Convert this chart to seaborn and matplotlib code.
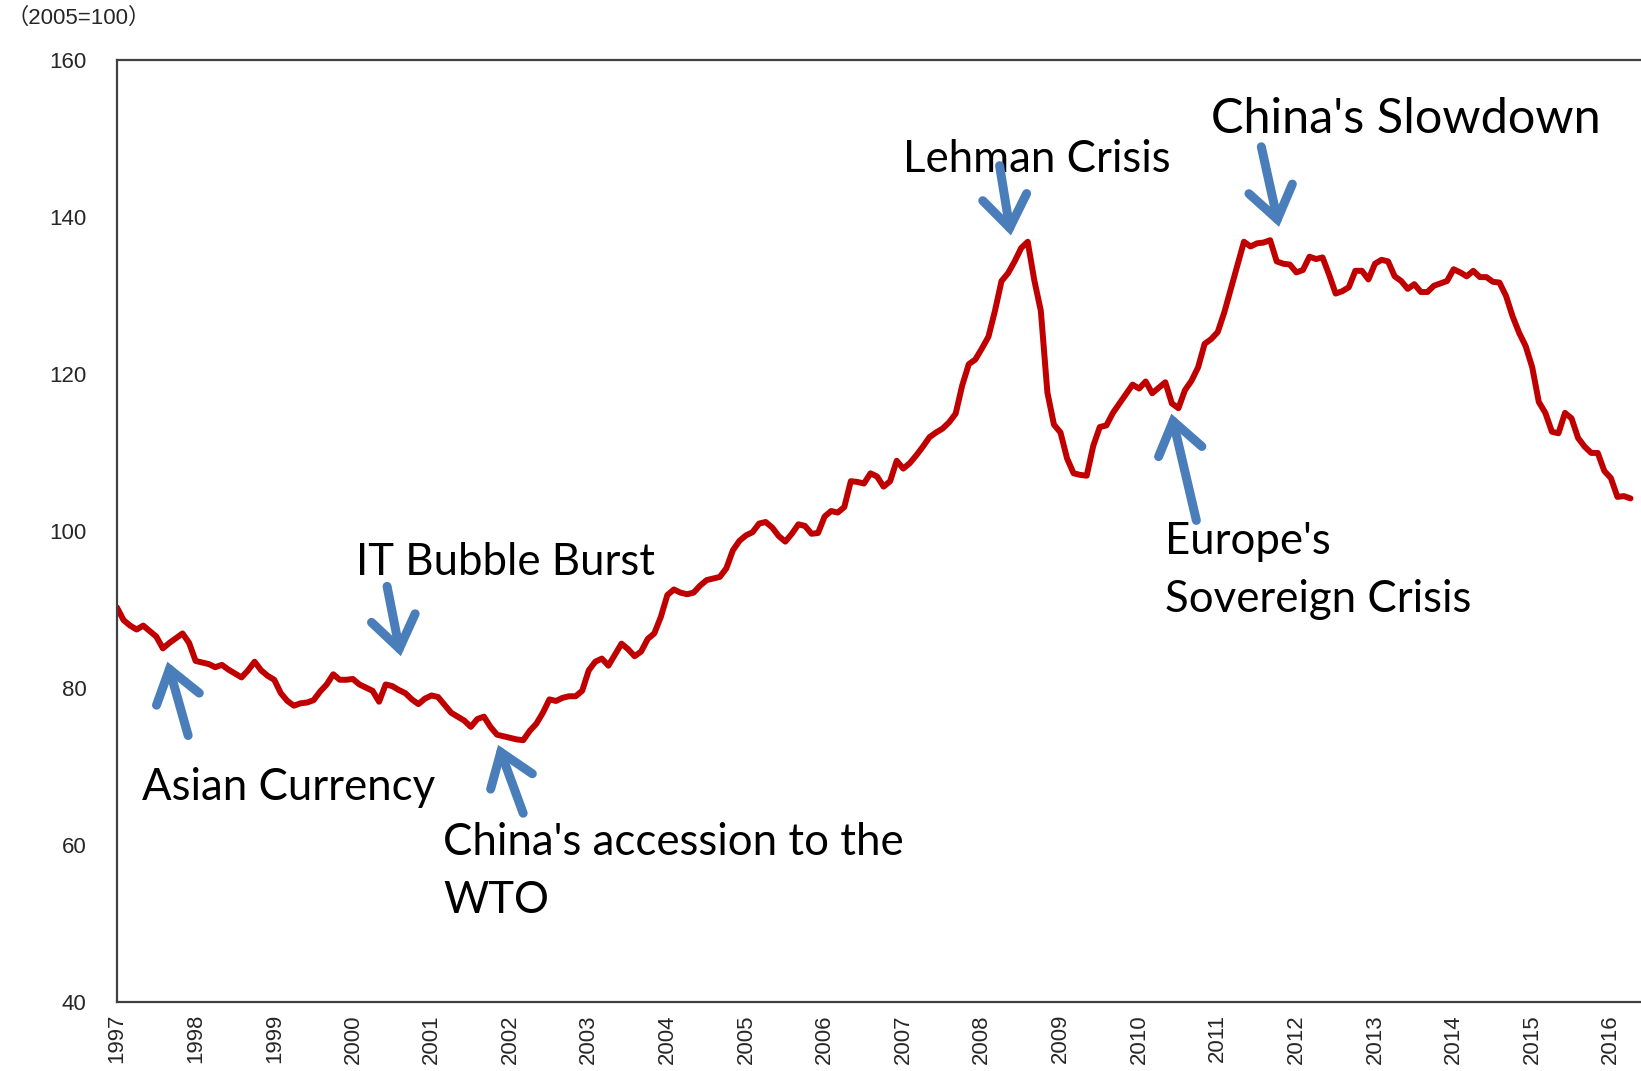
import numpy as np
import pandas as pd
import matplotlib
matplotlib.use('Agg')
import matplotlib.pyplot as plt
import seaborn as sns

# monthly index (2005=100), Jan 1997 - Apr 2016
v1997 = [90.2, 88.6, 87.9, 87.4, 87.9, 87.2, 86.5, 85.0, 85.7, 86.3, 86.9, 85.7]
v1998 = [83.4, 83.2, 83.0, 82.6, 82.9, 82.3, 81.8, 81.3, 82.2, 83.3, 82.2, 81.5]
v1999 = [81.0, 79.3, 78.3, 77.7, 78.0, 78.1, 78.4, 79.5, 80.4, 81.7, 81.0, 81.0]
v2000 = [81.1, 80.4, 80.0, 79.6, 78.2, 80.4, 80.2, 79.7, 79.3, 78.5, 77.9, 78.6]
v2001 = [79.0, 78.8, 77.8, 76.8, 76.3, 75.8, 75.0, 76.0, 76.3, 75.0, 74.0, 73.8]
v2002 = [73.6, 73.4, 73.3, 74.5, 75.4, 76.8, 78.5, 78.3, 78.7, 78.9, 78.9, 79.6]
v2003 = [82.2, 83.3, 83.7, 82.8, 84.2, 85.6, 84.9, 84.0, 84.6, 86.2, 86.9, 89.0]
v2004 = [91.8, 92.5, 92.1, 91.9, 92.1, 93.0, 93.7, 93.9, 94.1, 95.2, 97.5, 98.7]
v2005 = [99.4, 99.8, 100.9, 101.1, 100.4, 99.3, 98.6, 99.6, 100.8, 100.6, 99.6, 99.7]
v2006 = [101.8, 102.5, 102.3, 103.0, 106.3, 106.2, 106.0, 107.3, 106.9, 105.6, 106.3, 108.9]
v2007 = [107.9, 108.6, 109.6, 110.7, 111.9, 112.5, 113.0, 113.8, 114.9, 118.5, 121.2, 121.8]
v2008 = [123.2, 124.7, 128.0, 131.8, 132.8, 134.3, 136.0, 136.8, 131.9, 128.0, 117.6, 113.5]
v2009 = [112.5, 109.2, 107.3, 107.1, 107.0, 110.8, 113.2, 113.4, 115.0, 116.2, 117.4, 118.6]
v2010 = [118.1, 119.0, 117.5, 118.2, 118.9, 116.2, 115.6, 117.9, 119.1, 120.8, 123.8, 124.4]
v2011 = [125.3, 127.8, 130.8, 133.8, 136.8, 136.2, 136.6, 136.7, 137.0, 134.3, 134.0, 133.9]
v2012 = [132.9, 133.2, 134.9, 134.6, 134.8, 132.6, 130.2, 130.5, 131.0, 133.1, 133.1, 132.0]
v2013 = [134.0, 134.5, 134.3, 132.4, 131.8, 130.8, 131.4, 130.4, 130.4, 131.2, 131.5, 131.8]
v2014 = [133.3, 132.9, 132.4, 133.1, 132.3, 132.3, 131.7, 131.6, 129.9, 127.3, 125.2, 123.5]
v2015 = [120.8, 116.4, 115.0, 112.6, 112.4, 115.0, 114.3, 111.8, 110.7, 109.9, 109.9, 107.6]
v2016 = [106.7, 104.3, 104.4, 104.1]

values = (v1997 + v1998 + v1999 + v2000 + v2001 + v2002 + v2003 + v2004 + v2005
          + v2006 + v2007 + v2008 + v2009 + v2010 + v2011 + v2012 + v2013 + v2014
          + v2015 + v2016)
years = list(range(1997, 2017))
yticks = [40, 60, 80, 100, 120, 140, 160]

# events: label, text position (left, middle), arrow tail, arrow head, font size
events = [
    ("Asian Currency", (1997.32, 67.3), (1997.905, 73.9), (1997.64, 83.3), 31.5),
    ("IT Bubble Burst", (2000.04, 96.0), (2000.435, 92.9), (2000.61, 84.0), 31.5),
    ("China's accession to the\nWTO", (2001.15, 56.6), (2002.166, 64.0), (2001.847, 72.7), 31.5),
    ("Lehman Crisis", (2007.0, 147.3), (2008.225, 146.5), (2008.37, 137.6), 31.5),
    ("China's Slowdown", (2010.915, 152.5), (2011.554, 148.9), (2011.78, 138.7), 35),
    ("Europe's\nSovereign Crisis", (2010.33, 94.9), (2010.728, 101.3), (2010.41, 114.9), 31.5),
]

df = pd.DataFrame({'t': 1997 + np.arange(len(values)) / 12.0, 'index': values})

sns.set_style('white')
plt.rcParams['font.family'] = ['Liberation Sans Narrow', 'Liberation Sans', 'Noto Sans CJK JP']

fig = plt.figure(figsize=(16.41, 10.71), dpi=100)
ax = fig.add_axes([0.0713, 0.0648, 0.9287, 0.8795])

sns.lineplot(data=df, x='t', y='index', ax=ax, color='#C00000', linewidth=4.3)

ax.set_xlim(1997, 1997 + 232.6 / 12)
ax.set_ylim(40, 160)
ax.set_yticks(yticks)
ax.set_xticks(years)
ax.set_xticklabels([str(y) for y in years], rotation=90, fontsize=16)
ax.set_yticklabels([str(y) for y in yticks], fontsize=16)
ax.tick_params(axis='y', direction='in', length=7, width=1.2, color='#404040', pad=22)
ax.tick_params(axis='x', length=0, pad=9)
ax.set_xlabel('')
ax.set_ylabel('')

for side in ['left', 'bottom', 'top']:
    ax.spines[side].set_color('#404040')
    ax.spines[side].set_linewidth(1.6)
ax.spines['right'].set_visible(False)

for label, txt, tail, head, fs in events:
    ax.text(txt[0], txt[1], label, fontsize=fs, family=['Lato', 'DejaVu Sans'],
            va='center', ha='left', linespacing=1.5, color='black')
    ax.annotate('', xy=head, xytext=tail,
                arrowprops=dict(arrowstyle='->,head_length=0.7,head_width=0.5',
                                lw=6.5, color='#4A7EBB', mutation_scale=32,
                                shrinkA=0, shrinkB=0, capstyle='round',
                                joinstyle='miter'))

fig.text(0.004, 0.983, '（2005=100）', fontsize=16, va='center', ha='left')

fig.savefig('out.png', dpi=100)
